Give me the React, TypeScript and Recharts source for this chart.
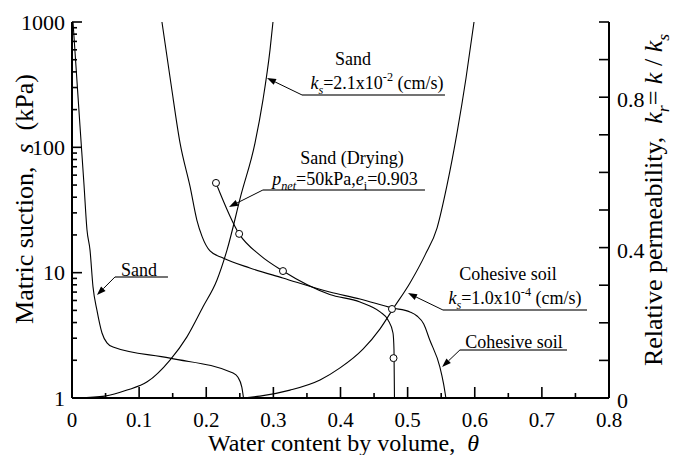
import { LineChart, Line, XAxis, YAxis, ReferenceLine, Label } from 'recharts';

// soil-water characteristic curves: matric suction s (kPa) vs volumetric water content
const sandSwcc = [
  { x: 0.0015, s: 1000 }, { x: 0.0073, s: 344 }, { x: 0.0119, s: 148 }, { x: 0.0179, s: 50 },
  { x: 0.0223, s: 22 }, { x: 0.0268, s: 15.2 }, { x: 0.0313, s: 7.7 }, { x: 0.0372, s: 5.0 },
  { x: 0.0447, s: 3.3 }, { x: 0.0521, s: 2.75 }, { x: 0.0611, s: 2.55 }, { x: 0.146, s: 2.08 },
  { x: 0.24, s: 1.58 }, { x: 0.247, s: 1.47 }, { x: 0.253, s: 1.22 }, { x: 0.2555, s: 1 },
];

const cohesiveSwcc = [
  { x: 0.134, s: 1000 }, { x: 0.1475, s: 320 }, { x: 0.161, s: 108 }, { x: 0.176, s: 48.3 },
  { x: 0.186, s: 26.3 }, { x: 0.194, s: 19.3 }, { x: 0.2056, s: 14.9 }, { x: 0.225, s: 13.1 },
  { x: 0.265, s: 10.9 }, { x: 0.314, s: 9.07 }, { x: 0.384, s: 7.0 }, { x: 0.429, s: 6.17 },
  { x: 0.477, s: 5.23 }, { x: 0.5035, s: 4.86 }, { x: 0.514, s: 4.51 }, { x: 0.524, s: 3.89 },
  { x: 0.533, s: 2.9 }, { x: 0.548, s: 1.77 }, { x: 0.5535, s: 1.3 }, { x: 0.557, s: 1 },
];

const sandDryingCurve = [
  { x: 0.2145, s: 52 }, { x: 0.249, s: 20.4 }, { x: 0.28, s: 13.8 }, { x: 0.3143, s: 10.3 },
  { x: 0.384, s: 6.7 }, { x: 0.429, s: 5.83 }, { x: 0.459, s: 4.86 }, { x: 0.4708, s: 4.19 },
  { x: 0.4782, s: 3.3 }, { x: 0.4797, s: 2.42 }, { x: 0.4804, s: 1 },
];

const sandDryingPoints = [
  { x: 0.2145, s: 52 }, { x: 0.249, s: 20.4 }, { x: 0.3143, s: 10.3 }, { x: 0.4767, s: 5.13 }, { x: 0.479, s: 2.08 },
];

// relative permeability k_r = k / k_s
const sandPerm = [
  { x: 0.009, k: 0 }, { x: 0.049, k: 0.005 }, { x: 0.082, k: 0.021 }, { x: 0.112, k: 0.043 },
  { x: 0.146, k: 0.101 }, { x: 0.171, k: 0.162 }, { x: 0.195, k: 0.242 }, { x: 0.216, k: 0.314 },
  { x: 0.231, k: 0.394 }, { x: 0.2518, k: 0.54 }, { x: 0.2726, k: 0.678 }, { x: 0.2845, k: 0.793 },
  { x: 0.295, k: 0.926 }, { x: 0.2994, k: 1.0 },
];

const cohesivePerm = [
  { x: 0.2533, k: 0 }, { x: 0.28, k: 0.005 }, { x: 0.3248, k: 0.021 }, { x: 0.3695, k: 0.048 },
  { x: 0.3993, k: 0.08 }, { x: 0.4335, k: 0.13 }, { x: 0.4589, k: 0.184 }, { x: 0.4782, k: 0.237 },
  { x: 0.5035, k: 0.306 }, { x: 0.5259, k: 0.38 }, { x: 0.5438, k: 0.452 }, { x: 0.5587, k: 0.566 },
  { x: 0.5736, k: 0.705 }, { x: 0.587, k: 0.851 }, { x: 0.5989, k: 1.0 },
];

const thetaTicks = [0, 0.05, 0.1, 0.15, 0.2, 0.25, 0.3, 0.35, 0.4, 0.45, 0.5, 0.55, 0.6, 0.65, 0.7, 0.75, 0.8];
const thetaLabels = ['0', '0.1', '0.2', '0.3', '0.4', '0.5', '0.6', '0.7', '0.8'];
const suctionTicks = [
  1, 2, 3, 4, 5, 6, 7, 8, 9, 10, 20, 30, 40, 50, 60, 70, 80, 90,
  100, 200, 300, 400, 500, 600, 700, 800, 900, 1000,
];
const suctionLabels = ['1', '10', '100', '1000'];
const permTicks = [0, 0.1, 0.2, 0.3, 0.4, 0.5, 0.6, 0.7, 0.8, 0.9, 1.0];
const permLabels = ['0', '0.4', '0.8'];

type Part = { t: string; it?: boolean; sub?: boolean; sup?: boolean };

const notes: {
  axis: 's' | 'k';
  from: { x: number; y: number };
  to: { x: number; y: number };
  rule: number;
  lines: { dx: number; dy: number; parts: Part[] }[];
}[] = [
  {
    axis: 'k', from: { x: 0.3426, y: 0.806 }, to: { x: 0.2905, y: 0.851 }, rule: 143,
    lines: [
      { dx: 51, dy: -30, parts: [{ t: 'Sand' }] },
      { dx: 75, dy: -6, parts: [{ t: 'k', it: true }, { t: 's', it: true, sub: true }, { t: '=2.1x10' }, { t: '-2', sup: true }, { t: ' (cm/s)' }] },
    ],
  },
  {
    axis: 's', from: { x: 0.2845, y: 45.7 }, to: { x: 0.2339, y: 33.4 }, rule: 162,
    lines: [
      { dx: 89, dy: -26, parts: [{ t: 'Sand (Drying)' }] },
      { dx: 82, dy: -5, parts: [{ t: 'p', it: true }, { t: 'net', it: true, sub: true }, { t: '=50kPa,' }, { t: 'e', it: true }, { t: 'i', sub: true }, { t: '=0.903' }] },
    ],
  },
  {
    axis: 'k', from: { x: 0.5527, y: 0.234 }, to: { x: 0.5006, y: 0.279 }, rule: 144,
    lines: [
      { dx: 65, dy: -30, parts: [{ t: 'Cohesive soil' }] },
      { dx: 72, dy: -6, parts: [{ t: 'k', it: true }, { t: 's', it: true, sub: true }, { t: '=1.0x10' }, { t: '-4', sup: true }, { t: ' (cm/s)' }] },
    ],
  },
  {
    axis: 's', from: { x: 0.578, y: 2.42 }, to: { x: 0.5514, y: 1.77 }, rule: 107,
    lines: [{ dx: 54, dy: -2, parts: [{ t: 'Cohesive soil' }] }],
  },
  {
    axis: 's', from: { x: 0.064, y: 9.24 }, to: { x: 0.0372, y: 6.63 }, rule: 53,
    lines: [{ dx: 24, dy: -1, parts: [{ t: 'Sand' }] }],
  },
];

const FONT = '"Liberation Serif", "Times New Roman", serif';

const labelFor = (labels: string[], v: number) => labels.find((l) => Math.abs(Number(l) - v) < 1e-6);

const Rich = ({ x, y, parts, size, rotate }: { x: number; y: number; parts: Part[]; size: number; rotate?: boolean }) => {
  let shift = 0;
  const spans = parts.map((p, i) => {
    const target = p.sub ? size * 0.28 : p.sup ? -size * 0.42 : 0;
    const dy = target - shift;
    shift = target;
    return (
      <tspan key={i} dy={dy} fontStyle={p.it ? 'italic' : undefined} fontSize={p.sub || p.sup ? size * 0.68 : undefined}>
        {p.t}
      </tspan>
    );
  });
  return (
    <text
      x={x}
      y={y}
      textAnchor="middle"
      fontSize={size}
      fontFamily={FONT}
      fill="#000"
      style={{ whiteSpace: 'pre' }}
      transform={rotate ? `rotate(-90 ${x} ${y})` : undefined}
    >
      {spans}
    </text>
  );
};

const BottomTick = ({ x, y, payload }: any) => {
  const lbl = labelFor(thetaLabels, payload.value);
  return (
    <g>
      <line x1={x} x2={x} y1={y} y2={y - (lbl ? 11 : 5)} stroke="#000" strokeWidth={1.6} />
      {lbl && (
        <text x={x} y={y + 29} textAnchor="middle" fontSize={21} fontFamily={FONT} fill="#000">
          {lbl}
        </text>
      )}
    </g>
  );
};

const TopTick = ({ x, y, payload }: any) => {
  const major = labelFor(thetaLabels, payload.value);
  return <line x1={x} x2={x} y1={y} y2={y + (major ? 10 : 5)} stroke="#000" strokeWidth={1.6} />;
};

const LeftTick = ({ x, y, payload }: any) => {
  const lbl = labelFor(suctionLabels, payload.value);
  return (
    <g>
      <line x1={x} x2={x + (lbl ? 10 : 5)} y1={y} y2={y} stroke="#000" strokeWidth={1.6} />
      {lbl && (
        <text x={x - 7} y={y + 7.5} textAnchor="end" fontSize={22} fontFamily={FONT} fill="#000">
          {lbl}
        </text>
      )}
    </g>
  );
};

const RightTick = ({ x, y, payload }: any) => {
  const lbl = labelFor(permLabels, payload.value);
  return (
    <g>
      <line x1={x} x2={x - 10} y1={y} y2={y} stroke="#000" strokeWidth={1.6} />
      {lbl && (
        <text x={x + 8} y={y + 10} textAnchor="start" fontSize={22} fontFamily={FONT} fill="#000">
          {lbl}
        </text>
      )}
    </g>
  );
};

const Callout = ({ x1, y1, x2, y2, note }: any) => {
  const ang = Math.atan2(y2 - y1, x2 - x1);
  const len = 9;
  const half = 3.2;
  const bx = x2 - len * Math.cos(ang);
  const by = y2 - len * Math.sin(ang);
  const px = -Math.sin(ang) * half;
  const py = Math.cos(ang) * half;
  return (
    <g>
      <line x1={x1} y1={y1} x2={x1 + note.rule} y2={y1} stroke="#444" strokeWidth={1.5} />
      <line x1={x1} y1={y1} x2={bx} y2={by} stroke="#000" strokeWidth={1} />
      <polygon points={`${x2},${y2} ${bx + px},${by + py} ${bx - px},${by - py}`} fill="#000" />
      {note.lines.map((ln: any, i: number) => (
        <Rich key={i} x={x1 + ln.dx} y={y1 + ln.dy} parts={ln.parts} size={18} />
      ))}
    </g>
  );
};

const curve = { stroke: '#000', strokeWidth: 1.1, dot: false, activeDot: false, isAnimationActive: false } as const;
const axisLine = { stroke: '#000', strokeWidth: 2 };

export default function App() {
  return (
    <div style={{ position: 'absolute', left: 0, top: 0, background: '#fff' }}>
      <LineChart width={674} height={455} margin={{ top: 22, right: 0, bottom: 0, left: 0 }}>
        <XAxis
          dataKey="x"
          type="number"
          domain={[0, 0.8]}
          ticks={thetaTicks}
          interval={0}
          allowDataOverflow
          height={57}
          tickSize={0}
          tickMargin={0}
          axisLine={axisLine}
          tickLine={false}
          tick={<BottomTick />}
        >
          <Label
            content={(p: any) => (
              <Rich
                x={p.viewBox.x + p.viewBox.width / 2 + 3}
                y={p.viewBox.y + 53}
                size={24}
                parts={[{ t: 'Water content by volume,  ' }, { t: 'θ', it: true }]}
              />
            )}
          />
        </XAxis>
        <XAxis
          xAxisId="top"
          orientation="top"
          dataKey="x"
          type="number"
          domain={[0, 0.8]}
          ticks={thetaTicks}
          interval={0}
          allowDataOverflow
          height={0}
          tickSize={0}
          tickMargin={0}
          axisLine={axisLine}
          tickLine={false}
          tick={<TopTick />}
        />
        <YAxis
          yAxisId="s"
          scale="log"
          type="number"
          domain={[1, 1000]}
          ticks={suctionTicks}
          interval={0}
          allowDataOverflow
          width={72}
          tickSize={0}
          tickMargin={0}
          axisLine={axisLine}
          tickLine={false}
          tick={<LeftTick />}
        >
          <Label
            content={(p: any) => (
              <Rich
                x={p.viewBox.x + 33}
                y={p.viewBox.y + 177}
                size={26}
                rotate
                parts={[{ t: 'Matric suction,  ' }, { t: 's', it: true }, { t: '  (kPa)' }]}
              />
            )}
          />
        </YAxis>
        <YAxis
          yAxisId="k"
          orientation="right"
          type="number"
          domain={[0, 1]}
          ticks={permTicks}
          interval={0}
          allowDataOverflow
          width={65}
          tickSize={0}
          tickMargin={0}
          axisLine={axisLine}
          tickLine={false}
          tick={<RightTick />}
        >
          <Label
            content={(p: any) => (
              <Rich
                x={p.viewBox.x + 53}
                y={p.viewBox.y + 178}
                size={26}
                rotate
                parts={[
                  { t: 'Relative permeability,  ' },
                  { t: 'k', it: true },
                  { t: 'r', it: true, sub: true },
                  { t: '= ' },
                  { t: 'k', it: true },
                  { t: ' / ' },
                  { t: 'k', it: true },
                  { t: 's', it: true, sub: true },
                ]}
              />
            )}
          />
        </YAxis>

        <Line yAxisId="s" data={sandSwcc} dataKey="s" type="monotone" {...curve} />
        <Line yAxisId="s" data={cohesiveSwcc} dataKey="s" type="monotone" {...curve} />
        <Line yAxisId="s" data={sandDryingCurve} dataKey="s" type="monotone" {...curve} />
        <Line yAxisId="k" data={sandPerm} dataKey="k" type="monotone" {...curve} />
        <Line yAxisId="k" data={cohesivePerm} dataKey="k" type="monotone" {...curve} />
        <Line
          yAxisId="s"
          data={sandDryingPoints}
          dataKey="s"
          stroke="none"
          dot={{ r: 3.5, fill: '#fff', stroke: '#000', strokeWidth: 1 }}
          activeDot={false}
          isAnimationActive={false}
        />

        {notes.map((n, i) => (
          <ReferenceLine
            key={i}
            yAxisId={n.axis}
            segment={[n.from, n.to]}
            ifOverflow="visible"
            shape={(p: any) => <Callout {...p} note={n} />}
          />
        ))}
      </LineChart>
    </div>
  );
}
